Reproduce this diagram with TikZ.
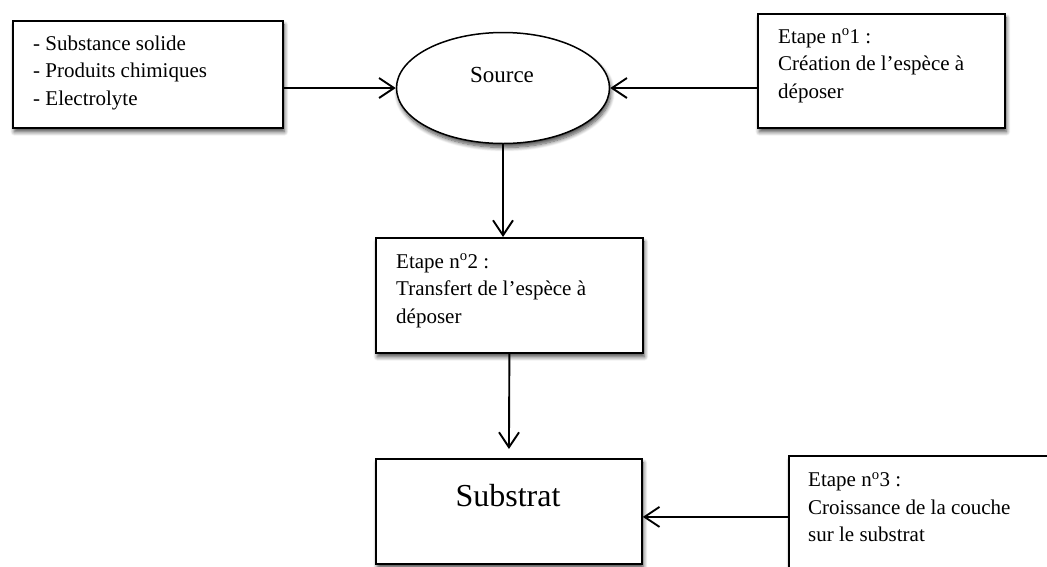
\documentclass[tikz,border=0pt]{standalone}
\usepackage{fontspec}
\setmainfont{Liberation Serif}
\usetikzlibrary{arrows.meta,shapes.geometric,shadows.blur}
\begin{document}
\begin{tikzpicture}[x=1pt,y=-1pt,
  shadowed/.style={blur shadow={shadow xshift=1.5pt, shadow yshift=-4pt, shadow blur radius=4pt, shadow blur steps=8, shadow opacity=70}},
  boxstyle/.style={draw=black, line width=1.8pt, fill=white, anchor=north west, inner sep=0pt, shadowed},
  txt/.style={anchor=north west, inner sep=0pt, align=left, font=\fontsize{21}{27.5}\selectfont},
  arr/.style={line width=1.9pt, -{Straight Barb[length=15pt,width=20pt]}}]
\useasboundingbox (0,0) rectangle (1047,566);
% boxes
\node[boxstyle, minimum width=270pt, minimum height=107pt] (b0) at (12,20) {};
\node[draw=black, line width=1.5pt, fill=white, ellipse, inner sep=0pt, minimum width=213pt, minimum height=111pt, shadowed] (src) at (503,88) {};
\node[boxstyle, minimum width=247pt, minimum height=114pt] (e1) at (757,13) {};
\node[boxstyle, minimum width=267pt, minimum height=115pt] (b2) at (375,237) {};
\node[boxstyle, minimum width=266pt, minimum height=105pt] (sub) at (375,458) {};
\node[boxstyle, minimum width=300pt, minimum height=122pt] (e3) at (788,455) {};
% texts
\node[txt] (t0) at (33,30.7) {\strut- Substance solide\\- Produits chimiques\\- Electrolyte};
\node[anchor=base, inner sep=0pt, font=\fontsize{23}{28}\selectfont] (tsrc) at (502,82.3) {Source};
\node[txt] (t1) at (778,24) {\strut Etape n\textsuperscript{o}1 :\\Création de l’espèce à\\déposer};
\node[txt] (t2) at (396,248.7) {\strut Etape n\textsuperscript{o}2 :\\Transfert de l’espèce à\\déposer};
\node[anchor=base, inner sep=0pt, font=\fontsize{32}{38}\selectfont] (tsub) at (508,506) {Substrat};
\node[txt] (t3) at (808,467.4) {\strut Etape n\textsuperscript{o}3 :\\Croissance de la couche\\sur le substrat};
% connectors
\draw[arr] (b0.east |- src.west) -- (src.west);
\draw[arr] (e1.west |- src.east) -- (src.east);
\draw[arr] (src.south) -- (src.south |- b2.north);
\draw[arr, shorten >=9pt] (b2.south) -- (sub.north);
\draw[arr] (e3.west) -- (e3.west -| sub.east);
\end{tikzpicture}
\end{document}
